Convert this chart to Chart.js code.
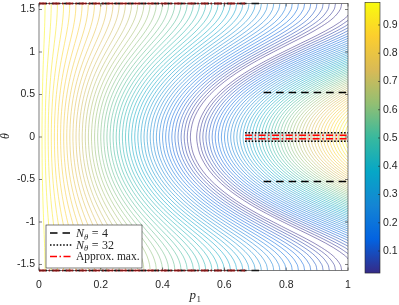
<!DOCTYPE html>
<html>
<head>
<meta charset="UTF-8">
<title>contour p1 theta</title>
<script src="https://cdn.jsdelivr.net/npm/chart.js"></script>
<style>
  html, body { margin: 0; padding: 0; background: #fff; }
</style>
</head>
<body>
<canvas id="chart" width="399" height="305"></canvas>
<script>
// field rows (theta >= 0, mirrored for theta < 0)
const thetaRows = [0, 0.1, 0.2, 0.3, 0.4, 0.5, 0.6, 0.7, 0.8, 0.9, 1.0, 1.1, 1.2, 1.3, 1.4, 1.5, 1.5708];
// p1 where the field reaches 0 (white curve)
const zeroP = [0.500, 0.503, 0.510, 0.523, 0.541, 0.565, 0.595, 0.631, 0.673, 0.721, 0.774, 0.829, 0.884, 0.933, 0.972, 0.995, 1.000];
// field value at p1 = 1
const rightEdge = [0.980, 0.970, 0.941, 0.894, 0.831, 0.755, 0.668, 0.573, 0.476, 0.379, 0.286, 0.202, 0.129, 0.070, 0.028, 0.005, 0.000];
// field value at p1 = 0
const leftEdge = 0.98;

const levelFirst = 0.02, levelLast = 0.965, levelStep = 0.0196;
const cbMin = 0.022, cbMax = 0.98;
const cbTicks = [0.1, 0.2, 0.3, 0.4, 0.5, 0.6, 0.7, 0.8, 0.9];
const xTicks = [0, 0.2, 0.4, 0.6, 0.8, 1];
const yTicks = [-1.5, -1, -0.5, 0, 0.5, 1, 1.5];

// maximiser lines: [p1 from, p1 to] and theta
const edgeTheta = 1.5708;
const n4EdgeP = [0, 0.727], n4InnerP = [0.727, 1], n4InnerTheta = 0.5236;
const n32EdgeP = [0, 0.667], n32InnerP = [0.667, 1], n32InnerTheta = 0.0507;
const maxEdgeP = [0, 0.667], maxInnerP = [0.667, 1], maxInnerTheta = 0.02;

const parula = ['#352a87', '#0363e1', '#1485d4', '#06a7c6', '#38b99e', '#92bf73', '#d9ba56', '#fcce2e', '#f9fb0e'];

function hexRgb(h) { return [1, 3, 5].map(i => parseInt(h.substr(i, 2), 16)); }
function colorAt(v, alpha) {
  let t = (v - cbMin) / (cbMax - cbMin);
  t = Math.max(0, Math.min(1, t)) * (parula.length - 1);
  const i = Math.min(parula.length - 2, Math.floor(t)), f = t - i;
  const a = hexRgb(parula[i]), b = hexRgb(parula[i + 1]);
  const c = a.map((x, k) => Math.round(x + (b[k] - x) * f));
  return 'rgba(' + c.join(',') + ',' + alpha + ')';
}

// full row order from -pi/2 to pi/2
const rowIdx = [];
for (let i = thetaRows.length - 1; i > 0; i--) rowIdx.push([i, -1]);
for (let i = 0; i < thetaRows.length; i++) rowIdx.push([i, 1]);

function leftBranch(c) {
  return rowIdx.map(([i, s]) => ({ x: zeroP[i] * (1 - c / leftEdge), y: s * thetaRows[i] }));
}
function rightBranch(c) {
  let k = -1;
  for (let i = 0; i < rightEdge.length; i++) if (rightEdge[i] > c) k = i;
  if (k < 0) return null;
  const px = i => zeroP[i] + (1 - zeroP[i]) * c / rightEdge[i];
  let tc = thetaRows[k];
  if (k + 1 < thetaRows.length) {
    const t = (rightEdge[k] - c) / (rightEdge[k] - rightEdge[k + 1]);
    tc = thetaRows[k] + t * (thetaRows[k + 1] - thetaRows[k]);
  }
  const pts = [{ x: 1, y: -tc }];
  for (let i = k; i > 0; i--) pts.push({ x: px(i), y: -thetaRows[i] });
  for (let i = 0; i <= k; i++) pts.push({ x: px(i), y: thetaRows[i] });
  pts.push({ x: 1, y: tc });
  return pts;
}

const datasets = [];
for (let c = levelFirst; c <= levelLast + 1e-9; c += levelStep) {
  const col = colorAt(c, 0.72);
  const base = { showLine: true, pointRadius: 0, borderColor: col, borderWidth: 0.75, tension: 0.35, order: 10 };
  datasets.push({ ...base, data: leftBranch(c) });
  const r = rightBranch(c);
  if (r) datasets.push({ ...base, data: r });
}

datasets.push({
  showLine: true, pointRadius: 0, borderColor: '#ffffff', borderWidth: 2.6, tension: 0.35, order: 5,
  data: rowIdx.map(([i, s]) => ({ x: zeroP[i], y: s * thetaRows[i] }))
});

const styles = {
  n4: { borderColor: '#000000', borderWidth: 1.6, borderDash: [7.5, 5] },
  n32: { borderColor: '#000000', borderWidth: 1.5, borderDash: [1.5, 1.8] },
  max: { borderColor: '#ff0000', borderWidth: 1.6, borderDash: [7, 2.5, 1.5, 2.5] }
};
function seg(style, order, p, theta) {
  datasets.push({ ...style, showLine: true, pointRadius: 0, order, clip: 4,
    data: [{ x: p[0], y: theta }, { x: p[1], y: theta }] });
}
[edgeTheta, -edgeTheta].forEach(t => seg(styles.n4, 3, n4EdgeP, t));
[n4InnerTheta, -n4InnerTheta].forEach(t => seg(styles.n4, 3, n4InnerP, t));
[edgeTheta, -edgeTheta].forEach(t => seg(styles.n32, 2, n32EdgeP, t));
[n32InnerTheta, -n32InnerTheta].forEach(t => seg(styles.n32, 2, n32InnerP, t));
[edgeTheta, -edgeTheta].forEach(t => seg(styles.max, 1, maxEdgeP, t));
[maxInnerTheta, -maxInnerTheta].forEach(t => seg(styles.max, 1, maxInnerP, t));

const tickFont = { family: '"Liberation Sans", Arial, sans-serif', size: 10.5 };
const textColor = '#262626';

const decor = {
  id: 'decor',
  beforeDatasetsDraw(chart) {
    // faint band behind the theta = 0 maximiser lines
    const { ctx, scales } = chart;
    const x0 = scales.x.getPixelForValue(n32InnerP[0]), x1 = scales.x.getPixelForValue(n32InnerP[1]);
    const y0 = scales.y.getPixelForValue(n32InnerTheta), y1 = scales.y.getPixelForValue(-n32InnerTheta);
    ctx.save();
    ctx.fillStyle = 'rgba(200,200,200,0.45)';
    ctx.fillRect(x0, y0, x1 - x0, y1 - y0);
    ctx.restore();
  },
  afterDraw(chart) {
    const { ctx, chartArea: a, scales } = chart;
    ctx.save();
    // axes box with inward ticks
    ctx.strokeStyle = '#262626';
    ctx.lineWidth = 0.6;
    ctx.strokeRect(a.left, a.top, a.right - a.left, a.bottom - a.top);
    ctx.beginPath();
    xTicks.forEach(v => {
      const x = scales.x.getPixelForValue(v);
      ctx.moveTo(x, a.bottom); ctx.lineTo(x, a.bottom - 3);
      ctx.moveTo(x, a.top); ctx.lineTo(x, a.top + 3);
    });
    yTicks.forEach(v => {
      const y = scales.y.getPixelForValue(v);
      ctx.moveTo(a.left, y); ctx.lineTo(a.left + 3, y);
      ctx.moveTo(a.right, y); ctx.lineTo(a.right - 3, y);
    });
    ctx.stroke();

    // colour bar
    const cb = scales.cb;
    const y0 = cb.getPixelForValue(cbMax), y1 = cb.getPixelForValue(cbMin);
    const bx = 365, bw = 15;
    const g = ctx.createLinearGradient(0, y1, 0, y0);
    parula.forEach((c, i) => g.addColorStop(i / (parula.length - 1), c));
    ctx.fillStyle = g;
    ctx.fillRect(bx, y0, bw, y1 - y0);
    ctx.strokeStyle = '#262626';
    ctx.lineWidth = 0.6;
    ctx.strokeRect(bx, y0, bw, y1 - y0);
    ctx.beginPath();
    cbTicks.forEach(v => {
      const y = cb.getPixelForValue(v);
      ctx.moveTo(bx + bw, y); ctx.lineTo(bx + bw - 2, y);
    });
    ctx.stroke();

    // axis labels
    ctx.fillStyle = textColor;
    ctx.textBaseline = 'alphabetic';
    ctx.font = 'italic 13px "Liberation Serif", serif';
    ctx.textAlign = 'right';
    ctx.fillText('p', 196, 299);
    ctx.textAlign = 'left';
    ctx.font = '9px "Liberation Serif", serif';
    ctx.fillText('1', 196.5, 302);
    ctx.save();
    ctx.translate(8.5, 136);
    ctx.rotate(-Math.PI / 2);
    ctx.textAlign = 'center';
    ctx.font = 'italic 12px "Liberation Serif", serif';
    ctx.fillText('\u03b8', 0, 0);
    ctx.restore();

    // legend
    const lx = 46, ly = 225, lw = 96, lh = 43;
    ctx.fillStyle = '#ffffff';
    ctx.fillRect(lx, ly, lw, lh);
    ctx.strokeStyle = '#262626';
    ctx.lineWidth = 0.6;
    ctx.strokeRect(lx, ly, lw, lh);
    const rows = [
      { st: styles.n4, y: 233, base: 237, val: '4' },
      { st: styles.n32, y: 245, base: 248.5, val: '32' },
      { st: styles.max, y: 256.5, base: 260, text: 'Approx. max.' }
    ];
    rows.forEach(r => {
      ctx.save();
      ctx.strokeStyle = r.st.borderColor;
      ctx.lineWidth = r.st.borderWidth;
      ctx.setLineDash(r.st.borderDash);
      ctx.beginPath();
      ctx.moveTo(50, r.y); ctx.lineTo(72, r.y);
      ctx.stroke();
      ctx.restore();
      ctx.fillStyle = textColor;
      ctx.textAlign = 'left';
      let x = 76;
      if (r.text) {
        ctx.font = '11.5px "Liberation Serif", serif';
        ctx.fillText(r.text, x, r.base);
      } else {
        ctx.font = 'italic 12px "Liberation Serif", serif';
        ctx.fillText('N', x, r.base);
        x += ctx.measureText('N').width;
        ctx.font = 'italic 8.5px "Liberation Serif", serif';
        ctx.fillText('\u03b8', x, r.base + 2.5);
        x += ctx.measureText('\u03b8').width + 3.5;
        ctx.font = '12px "Liberation Serif", serif';
        ctx.fillText('=', x, r.base);
        x += ctx.measureText('=').width + 3.5;
        ctx.fillText(r.val, x, r.base);
      }
    });
    ctx.restore();
  }
};

new Chart(document.getElementById('chart'), {
  type: 'scatter',
  data: { datasets },
  options: {
    responsive: false,
    animation: false,
    devicePixelRatio: 1,
    layout: { padding: { top: 3.5, left: 0, right: 0, bottom: 0 } },
    plugins: { legend: { display: false }, tooltip: { enabled: false } },
    scales: {
      x: {
        type: 'linear', min: 0, max: 1,
        afterBuildTicks: s => { s.ticks = xTicks.map(v => ({ value: v })); },
        ticks: { font: tickFont, color: textColor, padding: 8, maxRotation: 0, autoSkip: false,
          callback: v => String(v) },
        grid: { display: false, drawTicks: false },
        border: { display: false },
        afterFit: s => { s.height = 34.5; s.paddingLeft = 0; s.paddingRight = 0; }
      },
      y: {
        type: 'linear', min: -edgeTheta, max: edgeTheta,
        afterBuildTicks: s => { s.ticks = yTicks.map(v => ({ value: v })); },
        ticks: { font: tickFont, color: textColor, padding: 4, autoSkip: false,
          callback: v => String(v) },
        grid: { display: false, drawTicks: false },
        border: { display: false },
        afterFit: s => { s.width = 39; s.paddingTop = 0; s.paddingBottom = 0; }
      },
      cb: {
        type: 'linear', position: 'right', min: 0.031, max: 0.976,
        afterBuildTicks: s => { s.ticks = cbTicks.map(v => ({ value: v })); },
        ticks: { font: tickFont, color: textColor, padding: 35, autoSkip: false,
          callback: v => v.toFixed(1) },
        grid: { display: false, drawTicks: false },
        border: { display: false },
        afterFit: s => { s.width = 51; s.paddingTop = 0; s.paddingBottom = 0; }
      }
    }
  },
  plugins: [decor]
});
</script>
</body>
</html>
